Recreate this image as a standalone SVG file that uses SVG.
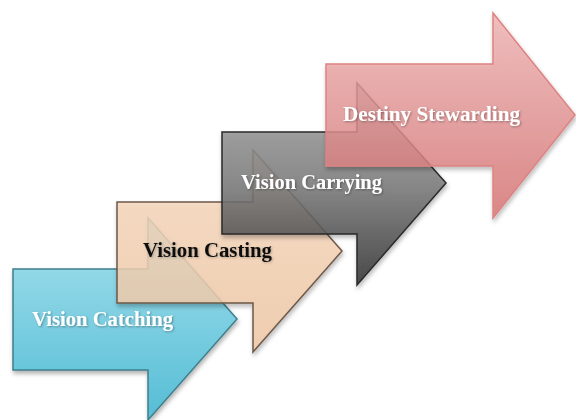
<svg xmlns="http://www.w3.org/2000/svg" width="576" height="420" viewBox="0 0 576 420">
  <style>
    .arrow { stroke-width: 1.5; stroke-linejoin: miter; filter: url(#shadow); }
    .label { font-family: "Liberation Serif", "Times New Roman", serif; font-weight: bold; font-size: 20px; }
    .light { fill: #ffffff; filter: url(#tshadow); }
    .dark { fill: #111111; filter: url(#tshadow2); }
  </style>
  <defs>
    <filter id="shadow" x="-10%" y="-10%" width="130%" height="130%">
      <feDropShadow dx="1" dy="3" stdDeviation="2" flood-color="#000" flood-opacity="0.3"/>
    </filter>
    <filter id="tshadow" x="-5%" y="-20%" width="110%" height="150%">
      <feDropShadow dx="1" dy="1" stdDeviation="0.8" flood-color="#000" flood-opacity="0.35"/>
    </filter>
    <filter id="tshadow2" x="-5%" y="-20%" width="110%" height="150%">
      <feDropShadow dx="1" dy="1" stdDeviation="0.8" flood-color="#000" flood-opacity="0.25"/>
    </filter>
    <linearGradient id="gBlue" x1="0" y1="0" x2="0" y2="1">
      <stop offset="0" stop-color="#a6e1ee"/>
      <stop offset="1" stop-color="#55bdd5"/>
    </linearGradient>
    <linearGradient id="gPeach" x1="0" y1="0" x2="0" y2="1">
      <stop offset="0" stop-color="#f9dcc2"/>
      <stop offset="1" stop-color="#f1c9a6"/>
    </linearGradient>
    <linearGradient id="gGray" x1="0" y1="0" x2="0" y2="1">
      <stop offset="0" stop-color="#aaaaaa"/>
      <stop offset="0.5" stop-color="#7c7c7c"/>
      <stop offset="1" stop-color="#333333"/>
    </linearGradient>
    <linearGradient id="gRed" x1="0" y1="0" x2="0" y2="1">
      <stop offset="0" stop-color="#f2b6b6"/>
      <stop offset="1" stop-color="#d87474"/>
    </linearGradient>
  </defs>

  <g id="connectors"></g>

  <g id="node-vision-catching">
    <path class="arrow" d="M13,269 H148 V218 L237,319 L148,420 V370 H13 Z" fill="url(#gBlue)" stroke="#3f7f8c"/>
    <text class="label light" x="32" y="326" textLength="141" lengthAdjust="spacingAndGlyphs">Vision Catching</text>
  </g>

  <g id="node-vision-casting">
    <path class="arrow" d="M117,202 H253 V150 L342,251 L253,352 V303 H117 Z" fill="url(#gPeach)" fill-opacity="0.82" stroke="#6e5848"/>
    <text class="label dark" x="143" y="257" textLength="129" lengthAdjust="spacingAndGlyphs">Vision Casting</text>
  </g>

  <g id="node-vision-carrying">
    <path class="arrow" d="M222,132 H357 V83 L446,183 L357,285 V234 H222 Z" fill="url(#gGray)" fill-opacity="0.85" stroke="#2a2a2a"/>
    <text class="label light" x="241" y="189" textLength="141" lengthAdjust="spacingAndGlyphs">Vision Carrying</text>
  </g>

  <g id="node-destiny-stewarding">
    <path class="arrow" d="M326,64 H493 V13 L575,115 L493,218 V166 H326 Z" fill="url(#gRed)" fill-opacity="0.8" stroke="#de8282"/>
    <text class="label light" x="343" y="121" textLength="177" lengthAdjust="spacingAndGlyphs">Destiny Stewarding</text>
  </g>
</svg>
